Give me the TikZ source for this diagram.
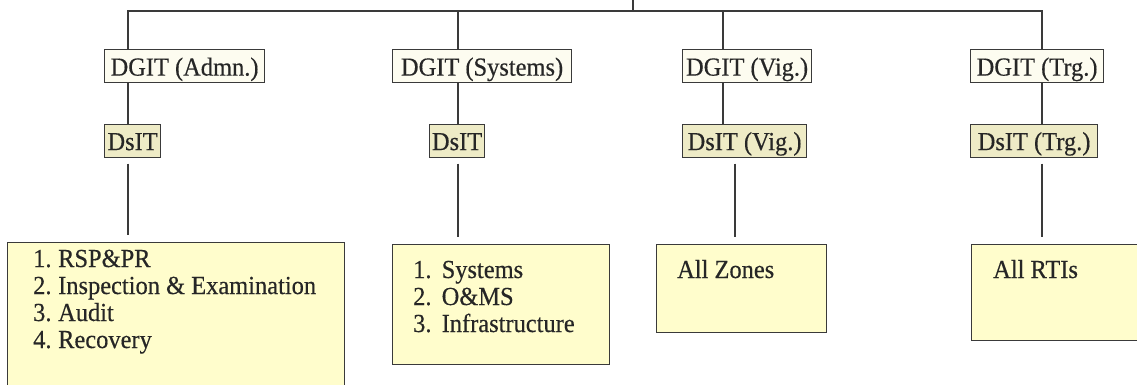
\documentclass[tikz,border=0pt]{standalone}
\usepackage{fontspec}
\setmainfont[FakeStretch=0.94,FakeBold=0.4]{Liberation Serif}
\definecolor{lc}{HTML}{3A3A3A}
\definecolor{dgfill}{HTML}{FDFCF0}
\definecolor{dsfill}{HTML}{EEEBC6}
\definecolor{bfill}{HTML}{FFFDCC}
\definecolor{tc}{HTML}{262626}
\begin{document}
\begin{tikzpicture}[x=1pt,y=1pt,
  conn/.style={draw=lc,line width=1.4pt},
  gap/.style={shorten >=7pt,shorten <=6pt},
  dgbox/.style={draw=lc,line width=1.2pt,fill=dgfill,text=tc,inner xsep=0pt,inner ysep=0pt,
    text height=26pt,text depth=7pt,anchor=north west,font=\fontsize{26}{27}\selectfont},
  dsbox/.style={dgbox,fill=dsfill},
  listbox/.style={draw=lc,line width=1.4pt,fill=bfill,inner sep=0pt,anchor=north west},
  listtext/.style={text=tc,inner sep=0pt,anchor=base west,font=\fontsize{26}{27}\selectfont}
]
\useasboundingbox (0,0) rectangle (1137,-384);

% level 1
\node[dgbox,minimum width=160] (dgA) at (104,-49) {DGIT (Admn.)};
\node[dgbox,minimum width=179] (dgS) at (392,-49) {DGIT (Systems)};
\node[dgbox,minimum width=129] (dgV) at (682,-49) {DGIT (Vig.)};
\node[dgbox,minimum width=133] (dgT) at (970,-49) {DGIT (Trg.)};

% level 2
\node[dsbox,minimum width=56] (dsA) at (104,-123.5) {DsIT};
\node[dsbox,minimum width=55] (dsS) at (429,-123.5) {DsIT};
\node[dsbox,minimum width=124] (dsV) at (682,-123.5) {DsIT (Vig.)};
\node[dsbox,minimum width=127] (dsT) at (970,-123.5) {DsIT (Trg.)};

% level 3 boxes
\node[listbox,minimum width=337,minimum height=150] (bA) at (7,-242) {};
\node[listbox,minimum width=217,minimum height=120] (bS) at (392,-244) {};
\node[listbox,minimum width=170,minimum height=88] (bV) at (656,-244) {};
\node[listbox,minimum width=175,minimum height=96] (bT) at (971,-244) {};

% level 3 texts
\node[listtext] (tA) at (33,-267) {\begin{tabular}[t]{@{}p{25pt}@{}l@{}}
1.&RSP\&PR\\
2.&Inspection \& Examination\\
3.&Audit\\
4.&Recovery
\end{tabular}};
\node[listtext] (tS) at (413,-278) {\begin{tabular}[t]{@{}p{28.5pt}@{}l@{}}
1.&Systems\\
2.&O\&MS\\
3.&Infrastructure
\end{tabular}};
\node[listtext] (tV) at (677,-278) {All Zones};
\node[listtext] (tT) at (993,-278) {All RTIs};

% connector positions
\coordinate (root) at (633,0);
\coordinate (xA) at (128,-11);
\coordinate (xS) at (458,-11);
\coordinate (xV) at (723,-11);
\coordinate (xVb) at (735,-11);
\coordinate (xT) at (1042,-11);

% bus
\draw[conn] (xA |- dgA.north) -- (xA) -- (xT) -- (xT |- dgT.north);
\draw[conn] (root) -- (root |- xA);
\draw[conn] (xS) -- (xS |- dgS.north);
\draw[conn] (xV) -- (xV |- dgV.north);

% DGIT -> DsIT
\draw[conn] (xA |- dgA.south) -- (xA |- dsA.north);
\draw[conn] (xS |- dgS.south) -- (xS |- dsS.north);
\draw[conn] (xV |- dgV.south) -- (xV |- dsV.north);
\draw[conn] (xT |- dgT.south) -- (xT |- dsT.north);

% DsIT -> lists
\draw[conn,gap] (xA |- dsA.south) -- (xA |- bA.north);
\draw[conn,gap] (xS |- dsS.south) -- (xS |- bS.north);
\draw[conn,gap] (xVb |- dsV.south) -- (xVb |- bV.north);
\draw[conn,gap] (xT |- dsT.south) -- (xT |- bT.north);
\end{tikzpicture}
\end{document}
